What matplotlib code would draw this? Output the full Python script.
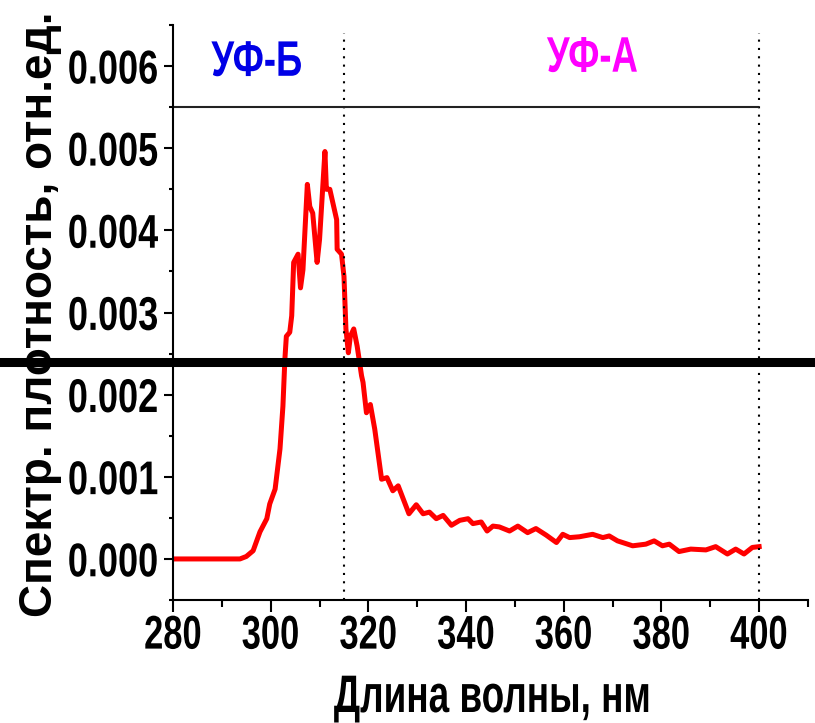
import matplotlib
matplotlib.use("Agg")
import matplotlib.pyplot as plt
from matplotlib.ticker import MultipleLocator, FormatStrFormatter
from matplotlib.patheffects import AbstractPathEffect
from matplotlib.transforms import Affine2D

plt.rcParams['font.family'] = ['Liberation Sans', 'DejaVu Sans']
plt.rcParams['font.weight'] = 'bold'

# spectrum (nm, rel. units)
wavelength = [280, 285, 290, 293.7, 295.0, 296.4, 297.8, 299.2, 299.8, 300.9, 301.9,
              302.5, 302.9, 303.2, 303.9, 304.3, 304.7, 305.6, 306.1, 306.6, 307.5,
              308.0, 308.6, 309.5, 310.0, 311.1, 311.4, 312.1, 313.5, 313.6, 314.5,
              315.0, 315.4, 315.9, 316.3, 317.0, 317.7, 318.6, 318.9, 319.6, 320.4,
              321.3, 322.7, 323.8, 325.0, 326.1, 328.3, 329.8, 331.2, 332.5, 333.9,
              335.3, 337.0, 338.7, 340.4, 341.4, 343.1, 344.3, 345.5, 346.8, 348.9,
              350.6, 352.6, 354.3, 356.4, 358.5, 359.8, 361.2, 363.2, 365.9, 368.0,
              369.3, 371.0, 374.1, 376.8, 378.5, 380.2, 381.6, 383.6, 386.0, 389.1,
              391.1, 393.5, 395.2, 396.9, 398.6, 400.0]
intensity = [0.0, 0.0, 0.0, 0.0, 0.00003, 0.0001, 0.00033, 0.00049, 0.00067, 0.00085, 0.00134,
             0.00186, 0.00243, 0.00271, 0.00276, 0.00296, 0.00361, 0.00371, 0.0033, 0.00352, 0.00456,
             0.00429, 0.00421, 0.00361, 0.00389, 0.00496, 0.0045, 0.0045, 0.00413, 0.00377, 0.00371,
             0.00344, 0.0028, 0.00251, 0.00271, 0.0028, 0.00259, 0.00223, 0.00215, 0.00178, 0.00188,
             0.00158, 0.00097, 0.00099, 0.00083, 0.00089, 0.00055, 0.00066, 0.00055, 0.00057, 0.00049,
             0.00053, 0.00041, 0.00047, 0.00049, 0.00043, 0.00045, 0.00034, 0.0004, 0.00039, 0.00034,
             0.0004, 0.00032, 0.00037, 0.00029, 0.0002, 0.0003, 0.00026, 0.00027, 0.0003, 0.00026,
             0.00028, 0.00022, 0.00016, 0.00018, 0.00022, 0.00016, 0.00018, 0.00009, 0.00012, 0.00011,
             0.00015, 0.00006, 0.00012, 0.00006, 0.00014, 0.00015]

uvb_edge = 315
uva_edge = 400
band_line = 0.0055
thick_line = 0.0024
band_labels = ['УФ-Б', 'УФ-А']
label_pos = [(297.2, 0.00604), (365.9, 0.00609)]
label_colors = ['#0000E6', '#FF00FF']


class Squeeze(AbstractPathEffect):
    """scale drawn text by (sx, sy) around an anchor point of its ink box"""

    def __init__(self, sx=1.0, sy=1.0, ax_=0.5, ay_=0.5):
        super().__init__()
        self.sx, self.sy = sx, sy
        self.ax_, self.ay_ = ax_, ay_

    def draw_path(self, renderer, gc, tpath, affine, rgbFace=None):
        ext = tpath.get_extents(affine)
        x0 = ext.x0 + self.ax_ * ext.width
        y0 = ext.y0 + self.ay_ * ext.height
        t = affine + Affine2D().translate(-x0, -y0).scale(self.sx, self.sy).translate(x0, y0)
        renderer.draw_path(gc, tpath, t, rgbFace)


fig = plt.figure(figsize=(8.15, 7.23), dpi=100)
ax = fig.add_axes([0.2123, 0.1701, 0.7791, 0.7953])

ax.plot(wavelength, intensity, color='red', lw=3.6, solid_joinstyle='round')

ax.vlines([uvb_edge, uva_edge], -0.0005, 0.0064, colors='black',
          linestyles=(0, (1, 3)), lw=1.5)
ax.hlines(band_line, 280, uva_edge, colors='#222222', lw=1.5)
ax.axhline(thick_line, xmin=-0.28, xmax=1.02, color='black', lw=6.5, clip_on=False)

for txt, (x, y), c in zip(band_labels, label_pos, label_colors):
    ax.text(x, y, txt, color=c, fontsize=36, ha='center', va='center',
            path_effects=[Squeeze(sx=0.73)])

ax.set_xlim(280, 410)
ax.set_ylim(-0.0005, 0.0065)
ax.xaxis.set_major_locator(MultipleLocator(20))
ax.xaxis.set_minor_locator(MultipleLocator(10))
ax.yaxis.set_major_locator(MultipleLocator(0.001))
ax.yaxis.set_minor_locator(MultipleLocator(0.0005))
ax.yaxis.set_major_formatter(FormatStrFormatter('%.3f'))

for s in ['top', 'right']:
    ax.spines[s].set_visible(False)
for s in ['left', 'bottom']:
    ax.spines[s].set_linewidth(1.5)

ax.tick_params(axis='x', which='major', labelsize=34, width=1.5, length=8.5, pad=2)
ax.tick_params(axis='y', which='major', labelsize=26, width=1.5, length=6.5, pad=4)
ax.tick_params(axis='x', which='minor', length=5, width=1.5)
ax.tick_params(axis='y', which='minor', length=3, width=1.5)

# tall narrow digits: squeeze x labels, stretch y labels
for lbl in ax.get_xticklabels():
    lbl.set_path_effects([Squeeze(sx=0.73)])
for lbl in ax.get_yticklabels():
    lbl.set_path_effects([Squeeze(sy=1.31)])

fig.text(492 / 815, 1 - 712 / 723, 'Длина волны, нм', fontsize=38,
         ha='center', va='baseline', path_effects=[Squeeze(sx=0.70)])
fig.text(40 / 815, 1 - 314 / 723, 'Спектр. плотность, отн.ед.', fontsize=33,
         rotation=90, ha='center', va='center')

fig.savefig('out.png', dpi=100)
